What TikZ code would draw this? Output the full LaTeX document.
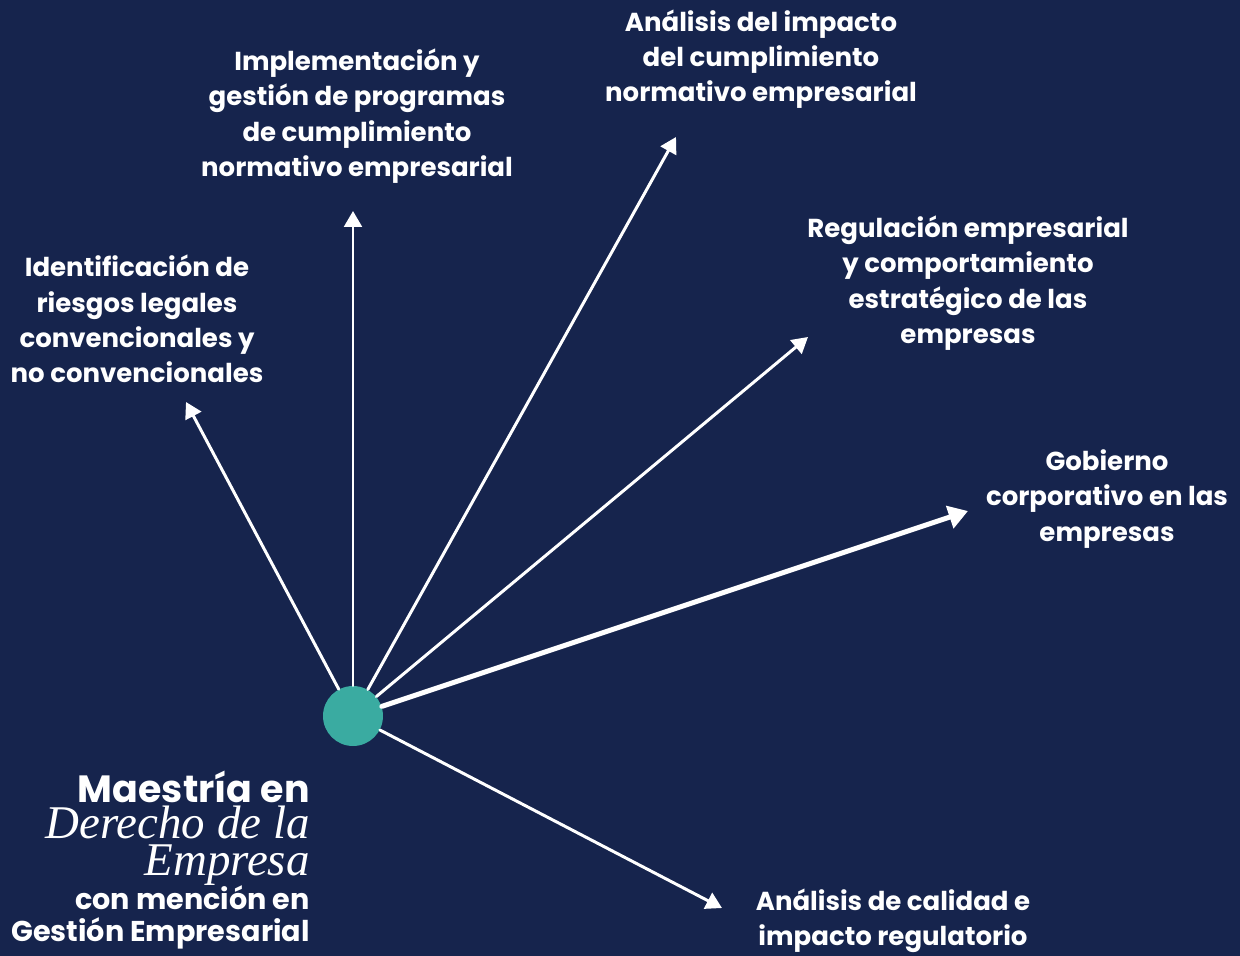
\documentclass[tikz,border=0pt]{standalone}
\usepackage{fontspec}
\setmainfont{Poppins}
\newfontfamily\titleserif{Liberation Serif}
\usetikzlibrary{arrows.meta}
\definecolor{fondo}{HTML}{16244D}
\definecolor{turquesa}{HTML}{3AABA1}
\tikzset{
  rayo/.style={white,line width=1.7pt,-{Triangle[length=9pt,width=10pt]}},
  rayogrueso/.style={white,line width=2.8pt,-{Triangle[length=11pt,width=13pt]}},
  etiqueta/.style={text=white,align=center,inner sep=0pt,font=\bfseries\fontsize{14.8}{20.1}\selectfont},
  titulo/.style={text=white,anchor=base east,inner sep=0pt,text depth=0pt}
}
\begin{document}
\begin{tikzpicture}[x=0.02cm,y=-0.02cm,line join=round,line cap=round]
		\fill[fondo] (0,0) rectangle (1240,956);
		\useasboundingbox (0,0) rectangle (1240,956);
		\node[circle,fill=turquesa,minimum size=1.2cm,inner sep=0pt] (centro) at (353,716) {};
		\coordinate (riesgos) at (186,402);
		\coordinate (programas) at (353,211);
		\coordinate (impacto) at (676,137);
		\coordinate (regulacion) at (808,337);
		\coordinate (gobierno) at (968,511);
		\coordinate (calidad) at (722,908);
		\draw[rayo] (centro) -- (riesgos);
		\draw[rayo] (centro) -- (programas);
		\draw[rayo] (centro) -- (impacto);
		\draw[rayo] (centro) -- (regulacion);
		\draw[rayogrueso] (centro) -- (gobierno);
		\draw[rayo] (centro) -- (calidad);
		\node[etiqueta] (t-riesgos) at (137,319) {Identificación de\\riesgos legales\\convencionales y\\no convencionales};
		\node[etiqueta] (t-programas) at (357,116) {Implementación y\\gestión de programas\\de cumplimiento\\normativo empresarial};
		\node[etiqueta] (t-impacto) at (761,59) {Análisis del impacto\\del cumplimiento\\normativo empresarial};
		\node[etiqueta] (t-regulacion) at (968,283) {Regulación empresarial\\y comportamiento\\estratégico de las\\empresas};
		\node[etiqueta] (t-gobierno) at (1107,499) {Gobierno\\corporativo en las\\empresas};
		\node[etiqueta] (t-calidad) at (893,921) {Análisis de calidad e\\impacto regulatorio};
		\node[titulo,font=\bfseries\fontsize{21.6}{26}\selectfont] (maestria) at (310,802) {Maestría en};
		\node[titulo,font=\titleserif\itshape\fontsize{26.7}{26}\selectfont] (derecho) at (310,838) {Derecho de la};
		\node[titulo,font=\titleserif\itshape\fontsize{26.7}{26}\selectfont] (empresa) at (310,875) {Empresa};
		\node[titulo,font=\bfseries\fontsize{16.3}{18}\selectfont] (mencion) at (310,909) {con mención en};
		\node[titulo,font=\bfseries\fontsize{16.3}{18}\selectfont] (gestion) at (310,941) {Gestión Empresarial};
\end{tikzpicture}
\end{document}
